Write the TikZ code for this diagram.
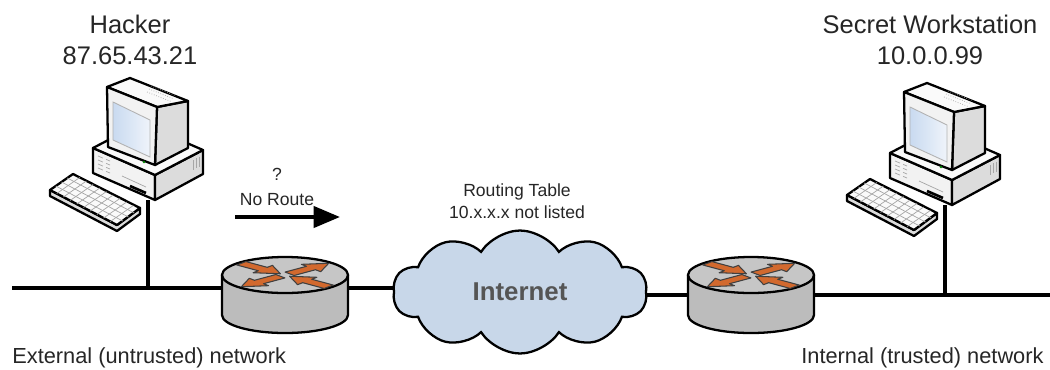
\documentclass[tikz,border=0pt]{standalone}
\usepackage{fontspec}
\setmainfont{Liberation Sans}
\usetikzlibrary{arrows.meta, shapes.symbols, backgrounds}

\definecolor{pcbody}{HTML}{F2F2F2}
\definecolor{pcside}{HTML}{DCDCDC}
\definecolor{pctop}{HTML}{FAFAFA}
\definecolor{pcscreen}{HTML}{C9DAF0}
\definecolor{routertop}{HTML}{C6C6C6}
\definecolor{routerside}{HTML}{BCBCBC}
\definecolor{routerarrow}{HTML}{D2692E}
\definecolor{cloudblue}{HTML}{C8D7E9}
\definecolor{inettext}{HTML}{555555}

\tikzset{
  outline/.style={draw=black, line width=1.3pt, line join=round},
  detail/.style={draw=gray!70, line width=0.4pt},
  wire/.style={line width=2pt},
  rtarrow/.style={draw=black!75, line width=0.6pt, fill=routerarrow, line join=round},
  hostlbl/.style={align=center, inner sep=0pt, text=black!85, font=\fontsize{14.5}{17.5}\selectfont},
  netlbl/.style={anchor=west, inner sep=0pt, text=black!85, font=\fontsize{12.4}{15}\selectfont},
  notelbl/.style={align=center, inner sep=0pt, text=black!85, font=\fontsize{10}{12.5}\selectfont},
  inet/.style={cloud, cloud puffs=10, cloud puff arc=115, aspect=2, draw, line width=1.3pt,
    fill=cloudblue, minimum width=5.08cm, minimum height=2.46cm, inner sep=0pt,
    text=inettext, font=\fontsize{14.7}{17}\selectfont\bfseries},
  pics/workstation/.style={code={
    % case
    \path[outline, fill=pcbody] (-55,-52) -- (7,-25) -- (7,0) -- (-55,-27) -- cycle;
    \path[outline, fill=pcside] (7,-25) -- (55,-50) -- (55,-26) -- (7,0) -- cycle;
    \path[outline, fill=pctop] (-55,-52) -- (-7,-77) -- (55,-50) -- (7,-25) -- cycle;
    \foreach \k in {0,1,2,3}
      \draw[detail, densely dashed] (-50,{-44+4*\k}) -- (-38,{-39+4*\k});
    \draw[detail] (-26,-24) -- (-2,-13);
    \draw[line width=1.5pt] (-18,-14) -- (-2,-7);
    \foreach \k in {0,1,2}
      \draw[detail] ({45+3*\k},{-40-1.6*\k}) -- ({45+3*\k},{-30-1.6*\k});
    % monitor
    \path[outline, fill=pcside] (9,-93) -- (40,-99) -- (40,-52) -- (7,-35) -- cycle;
    \path[outline, fill=pctop] (-41,-113) -- (-18,-122) -- (40,-99) -- (9,-93) -- cycle;
    \path[outline, fill=pcbody] (-41,-113) -- (9,-93) -- (7,-35) -- (-40,-53) -- cycle;
    \path[draw=gray!60, line width=0.5pt, left color=pcscreen, right color=pcscreen!30]
      (-35,-98) -- (2,-80) -- (2,-43) -- (-35,-60) -- cycle;
    \fill[green!50!black] (-4,-38) circle[radius=1.3];
    \foreach \k in {0,1,2}
      \draw[detail, densely dotted] ({3-2*\k},{-114+3*\k}) -- ({27-2*\k},{-104.5+3*\k});
    % keyboard
    \path[outline, fill=pcside] (-98,-10) -- (-31,25) -- (-8,8) -- (-8,14) -- (-31,31) -- (-98,-4) -- cycle;
    \path[outline, fill=pctop] (-98,-10) -- (-75,-26) -- (-8,8) -- (-31,25) -- cycle;
    \foreach \s in {0.25,0.5,0.75}
      \draw[detail] ({-98+23*\s},{-10-16*\s}) -- ({-31+23*\s},{25-16*\s});
    \foreach \t in {0.1,0.2,...,0.9}
      \draw[detail] ({-98+67*\t},{-10+35*\t}) -- ({-75+67*\t},{-26+35*\t});
    \coordinate (-port) at (0,0);
  }},
  pics/router/.style={code={
    \path[outline, fill=routerside] (-63,0) -- (-63,40)
      arc[start angle=180, end angle=0, x radius=63, y radius=18] -- (63,0) -- cycle;
    \path[outline, fill=routertop] (0,0) ellipse[x radius=63, y radius=18];
    \foreach \a in {40,220}
      \path[rtarrow, yscale=0.32, rotate=\a] (6,-7) -- (34,-7) -- (34,-15) -- (57,0)
        -- (34,15) -- (34,7) -- (6,7) -- cycle;
    \foreach \a in {140,320}
      \path[rtarrow, yscale=0.32, rotate=\a] (57,-7) -- (29,-7) -- (29,-15) -- (6,0)
        -- (29,15) -- (29,7) -- (57,7) -- cycle;
    \coordinate (-w) at (-63,20);
    \coordinate (-e) at (63,20);
  }}
}

\begin{document}
\begin{tikzpicture}[x=0.02cm, y=-0.02cm]
\useasboundingbox (0,0) rectangle (1050,369);
\clip (0,0) rectangle (1050,369);

% hosts and routers
\pic (hk) at (148,200) {workstation};
\pic (sw) at (945,205) {workstation};
\pic (r1) at (285,275) {router};
\pic (r2) at (751,275) {router};
\node[inet] (inet) at (520,292) {Internet};

\coordinate (lbus) at (12,288);
\coordinate (rbus) at (1050,295);

% cabling
\begin{scope}[on background layer]
  \draw[wire] (lbus) -- (lbus -| r1-w);
  \draw[wire] (lbus -| r1-e) -- (lbus -| inet);
  \draw[wire] (rbus -| inet) -- (rbus -| r2-w);
  \draw[wire] (rbus -| r2-e) -- (rbus);
  \draw[wire] (hk-port) -- (hk-port |- lbus);
  \draw[wire] (sw-port) -- (sw-port |- rbus);
\end{scope}

% labels
\node[hostlbl] (hklbl) at (130,40) {Hacker\\87.65.43.21};
\node[hostlbl] (swlbl) at (930,40) {Secret Workstation\\10.0.0.99};
\node[netlbl] (extlbl) at (12,358) {External (untrusted) network};
\node[netlbl] (intlbl) at (801,358) {Internal (trusted) network};
\node[notelbl] (tablelbl) at (517,201) {Routing Table\\10.x.x.x not listed};

% attempted route
\coordinate (try) at (235,217);
\coordinate (stop) at (340,217);
\draw[wire, line width=2.2pt, -{Triangle[length=15pt,width=12pt]}] (try) -- (stop);
\node[notelbl, font=\fontsize{10}{14}\selectfont] (routelbl) at (277,187) {?\\No Route};
\end{tikzpicture}
\end{document}
